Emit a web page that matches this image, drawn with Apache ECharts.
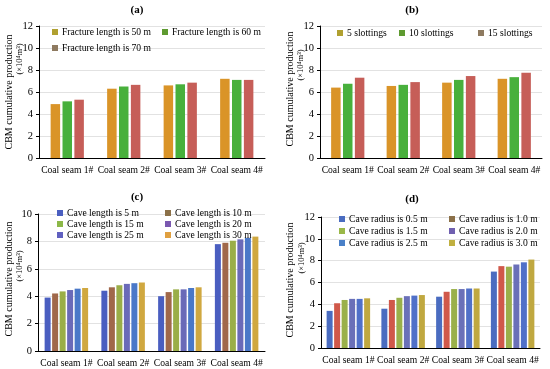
<!DOCTYPE html>
<html><head><meta charset="utf-8">
<script src="https://cdn.jsdelivr.net/npm/echarts@6/dist/echarts.min.js"></script>
<style>html,body{margin:0;padding:0;background:#fff}#c{width:550px;height:369px}</style>
</head><body><div id="c"></div>
<script>
const categories = ['Coal seam 1#','Coal seam 2#','Coal seam 3#','Coal seam 4#'];

const namesA = ['Fracture length is 50 m','Fracture length is 60 m','Fracture length is 70 m'];
const valuesA50 = [4.9, 6.3, 6.6, 7.2];
const valuesA60 = [5.15, 6.5, 6.7, 7.1];
const valuesA70 = [5.3, 6.65, 6.85, 7.1];

const namesB = ['5 slottings','10 slottings','15 slottings'];
const valuesB5 = [6.4, 6.55, 6.85, 7.2];
const valuesB10 = [6.75, 6.65, 7.1, 7.35];
const valuesB15 = [7.3, 6.9, 7.45, 7.75];

const namesC = ['Cave length is 5 m','Cave length is 10 m','Cave length is 15 m','Cave length is 20 m','Cave length is 25 m','Cave length is 30 m'];
const valuesC5 = [3.9, 4.4, 4.0, 7.8];
const valuesC10 = [4.2, 4.65, 4.3, 7.9];
const valuesC15 = [4.35, 4.8, 4.5, 8.05];
const valuesC20 = [4.45, 4.9, 4.5, 8.15];
const valuesC25 = [4.55, 4.95, 4.6, 8.25];
const valuesC30 = [4.6, 5.0, 4.65, 8.35];

const namesD = ['Cave radius is 0.5 m','Cave radius is 1.0 m','Cave radius is 1.5 m','Cave radius is 2.0 m','Cave radius is 2.5 m','Cave radius is 3.0 m'];
const valuesD05 = [3.4, 3.6, 4.7, 7.0];
const valuesD10 = [4.1, 4.4, 5.15, 7.5];
const valuesD15 = [4.4, 4.6, 5.4, 7.45];
const valuesD20 = [4.5, 4.75, 5.4, 7.65];
const valuesD25 = [4.5, 4.8, 5.45, 7.85];
const valuesD30 = [4.55, 4.85, 5.45, 8.1];

const yTicksAB = [0, 2, 4, 6, 8, 10, 12];
const yTicksC = [0, 2, 4, 6, 8, 10];

const FONT = "'Liberation Serif','Times New Roman',serif";

const barColA = ['#DA9428', '#48B03C', '#C65E58'];
const legColA = ['#B0A030', '#5E9A30', '#8E7A60'];
const barColC = ['#4A5EC0', '#A0684A', '#9AAE48', '#6A6AB8', '#4A78C8', '#D0A840'];
const legColC = ['#4A5EC0', '#8B7048', '#8CB848', '#7A58B0', '#6060C0', '#E0A040'];
const barColD = ['#4A6CC0', '#D0584A', '#9AB04A', '#6A70B8', '#5070C8', '#C0A840'];
const legColD = ['#4A6CC0', '#8B7048', '#9AB848', '#7060B0', '#4A80C8', '#C0B040'];

const grids = [
  {left: 39, top: 26, width: 226, height: 132},
  {left: 320, top: 26, width: 222, height: 132},
  {left: 38, top: 214, width: 227, height: 137},
  {left: 321, top: 217, width: 219, height: 131}
];

function xAxis(i) {
  return {
    type: 'category', gridIndex: i, data: categories,
    axisLine: {lineStyle: {color: '#000', width: 1}},
    axisTick: {inside: true, length: 4, lineStyle: {color: '#000'}},
    axisLabel: {color: '#000', fontFamily: FONT, fontSize: 9.6, margin: 7, interval: 0}
  };
}
function yAxis(i, max) {
  return {
    type: 'value', gridIndex: i, min: 0, max: max, interval: 2,
    axisLine: {show: true, lineStyle: {color: '#000', width: 1}},
    axisTick: {show: true, length: 3, lineStyle: {color: '#000'}},
    axisLabel: {color: '#000', fontFamily: FONT, fontSize: 10.5, margin: 6},
    splitLine: {show: true, lineStyle: {color: '#E2E2E2', width: 1}}
  };
}

const series = [];
function addSeries(idx, names, vals, cols, bw) {
  names.forEach((n, k) => {
    series.push({
      type: 'bar', name: n, xAxisIndex: idx, yAxisIndex: idx, data: vals[k],
      barWidth: bw, barGap: '25%', itemStyle: {color: cols[k]}
    });
  });
}
addSeries(0, namesA, [valuesA50, valuesA60, valuesA70], barColA, 9.5);
addSeries(1, namesB, [valuesB5, valuesB10, valuesB15], barColA, 9.5);
addSeries(2, namesC, [valuesC5, valuesC10, valuesC15, valuesC20, valuesC25, valuesC30], barColC, 6);
addSeries(3, namesD, [valuesD05, valuesD10, valuesD15, valuesD20, valuesD25, valuesD30], barColD, 6);

const legends = [];
function leg(name, color, x, yc) {
  legends.push({
    data: [{name: name, itemStyle: {color: color}}],
    left: x, top: yc - 6, icon: 'rect', itemWidth: 6, itemHeight: 6, padding: 0,
    selectedMode: false,
    textStyle: {color: '#000', fontFamily: FONT, fontSize: 9.6, padding: [0, 0, 0, -1]}
  });
}
leg(namesA[0], legColA[0], 52, 33);
leg(namesA[1], legColA[1], 162, 33);
leg(namesA[2], legColA[2], 52, 49);
leg(namesB[0], legColA[0], 337, 34);
leg(namesB[1], legColA[1], 399, 34);
leg(namesB[2], legColA[2], 478, 34);
leg(namesC[0], legColC[0], 57, 214);
leg(namesC[1], legColC[1], 165, 214);
leg(namesC[2], legColC[2], 57, 225);
leg(namesC[3], legColC[3], 165, 225);
leg(namesC[4], legColC[4], 57, 236);
leg(namesC[5], legColC[5], 165, 236);
leg(namesD[0], legColD[0], 339, 220);
leg(namesD[1], legColD[1], 449, 220);
leg(namesD[2], legColD[2], 339, 232);
leg(namesD[3], legColD[3], 449, 232);
leg(namesD[4], legColD[4], 339, 244);
leg(namesD[5], legColD[5], 449, 244);

function txt(t, x, y, size, rot, bold) {
  return {
    type: 'text', x: x, y: y, rotation: rot ? Math.PI / 2 : 0,
    style: {text: t, fill: '#000', fontFamily: FONT, fontSize: size, fontWeight: bold ? 'bold' : 'normal',
            align: 'center', verticalAlign: 'middle'}
  };
}
const yName1 = 'CBM cumulative production';
const yName2 = '(×10⁴m³)';
const graphics = [
  txt('(a)', 137, 10, 11, false, true),
  txt('(b)', 412, 10, 11, false, true),
  txt('(c)', 137, 197, 11, false, true),
  txt('(d)', 412, 199, 11, false, true),
  txt(yName1, 9, 92, 10, true), txt(yName2, 20, 59, 8.5, true),
  txt(yName1, 290, 89, 10, true), txt(yName2, 301, 65, 8.5, true),
  txt(yName1, 9, 279, 10, true), txt(yName2, 20, 266, 8.5, true),
  txt(yName1, 290, 280, 10, true), txt(yName2, 302, 258, 8.5, true)
];

const chart = echarts.init(document.getElementById('c'), null, {renderer: 'canvas'});
chart.setOption({
  animation: false,
  backgroundColor: '#fff',
  grid: grids,
  xAxis: [xAxis(0), xAxis(1), xAxis(2), xAxis(3)],
  yAxis: [yAxis(0, yTicksAB[yTicksAB.length - 1]), yAxis(1, yTicksAB[yTicksAB.length - 1]),
          yAxis(2, yTicksC[yTicksC.length - 1]), yAxis(3, yTicksAB[yTicksAB.length - 1])],
  legend: legends,
  series: series,
  graphic: graphics
});
</script></body></html>
